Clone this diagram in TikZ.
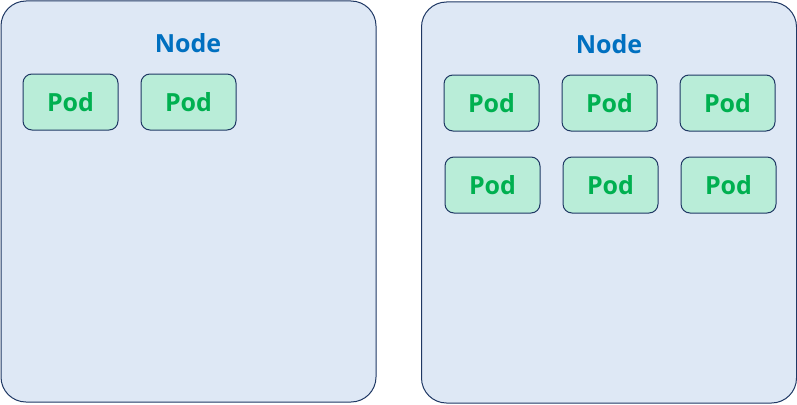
\documentclass[tikz,border=0pt]{standalone}
\usepackage{fontspec}
\setmainfont{Open Sans}
\usetikzlibrary{positioning}
\definecolor{navy}{RGB}{31,56,100}
\definecolor{sky}{RGB}{222,232,245}
\definecolor{mint}{RGB}{185,237,216}
\definecolor{grass}{RGB}{0,176,80}
\definecolor{azure}{RGB}{0,112,192}
\tikzset{
  worker/.style={draw=navy,fill=sky,rounded corners=25pt,line width=1pt,
    minimum width=375pt,minimum height=401pt,inner sep=0pt},
  pod/.style={draw=navy,fill=mint,rounded corners=9pt,line width=1pt,
    minimum width=95pt,minimum height=56pt,inner sep=0pt,
    font=\fontsize{25}{28}\selectfont\bfseries,text=grass},
  title/.style={font=\fontsize{25}{28}\selectfont\bfseries,text=azure},
}
\begin{document}
\begin{tikzpicture}[x=1pt,y=-1pt]
  \useasboundingbox (0,0) rectangle (797,404);
  % two worker nodes
  \node[worker] (left) at (188.5,201.5) {};
  \node[worker] (right) at (609,202.5) {};
  \node[title] (lefttitle) at (188,43) {Node};
  \node[title] (righttitle) at (609,44) {Node};
  % pods
  \foreach \x [count=\i] in {70.5,188.5}
    \node[pod] (lp\i) at (\x,102) {Pod};
  \foreach \x [count=\i] in {491.5,609.5,727.5}{
    \node[pod] (ra\i) at (\x,103) {Pod};
    \node[pod] (rb\i) at (\x+1,185) {Pod};
  }
\end{tikzpicture}
\end{document}
